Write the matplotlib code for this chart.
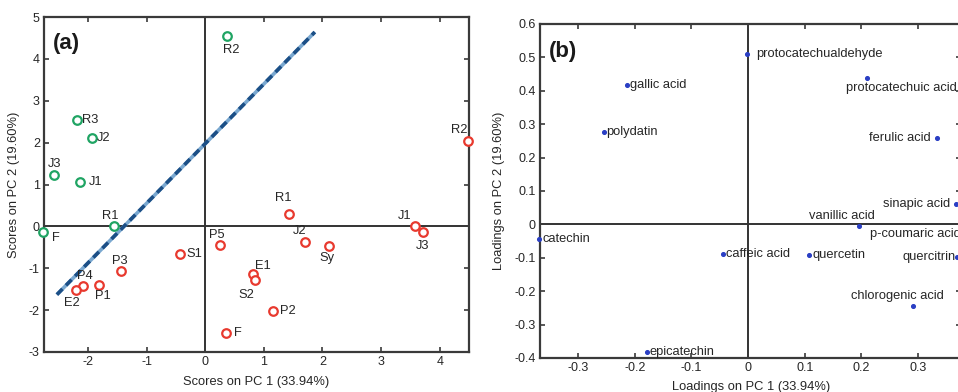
import matplotlib
matplotlib.use("Agg")
import matplotlib.pyplot as plt

plt.rcParams['font.family'] = ['Liberation Sans', 'DejaVu Sans']
plt.rcParams['axes.unicode_minus'] = False

# ---------------- Data: panel (a) scores ----------------
green_labels = ['R2', 'R3', 'J2', 'J3', 'J1', 'R1', 'F']
green_x = [0.37, -2.18, -1.93, -2.58, -2.13, -1.56, -2.76]
green_y = [4.55, 2.53, 2.12, 1.22, 1.06, 0.02, -0.14]

red_labels = ['R2', 'R1', 'J1', 'J3', 'J2', 'Sy', 'P5', 'S1', 'E1', 'S2',
              'P2', 'F', 'P3', 'P1', 'P4', 'E2']
red_x = [4.49, 1.43, 3.58, 3.71, 1.71, 2.12, 0.26, -0.43, 0.82, 0.85,
         1.15, 0.35, -1.43, -1.81, -2.09, -2.20]
red_y = [2.03, 0.29, 0.02, -0.14, -0.37, -0.46, -0.44, -0.66, -1.13, -1.27,
         -2.01, -2.55, -1.06, -1.40, -1.42, -1.53]

line_x = [-2.53, 1.87]
line_y = [-1.63, 4.64]

# ---------------- Data: panel (b) loadings ----------------
load_labels = ['protocatechualdehyde', 'gallic acid', 'polydatin',
               'protocatechuic acid', 'ferulic acid', 'sinapic acid',
               'vanillic acid', 'p-coumaric acid', 'quercitrin', 'catechin',
               'caffeic acid', 'quercetin', 'chlorogenic acid', 'epicatechin']
load_x = [-0.002, -0.214, -0.255, 0.209, 0.333, 0.366, 0.196, 0.385, 0.369,
          -0.368, -0.045, 0.108, 0.291, -0.179]
load_y = [0.511, 0.418, 0.276, 0.438, 0.258, 0.062, -0.004, -0.028, -0.098,
          -0.045, -0.088, -0.093, -0.245, -0.382]

# label placement (pixel offsets dx, dy-down, alignment)
green_off = {'R2': (4, 14), 'R3': (13, 0), 'J2': (12, 0), 'J3': (1, -11),
             'J1': (15, 0), 'R1': (-4, -10), 'F': (12, 6)}
red_off = {'R2': (-9, -11), 'R1': (-6, -16), 'J1': (-10, -10), 'J3': (0, 14),
           'J2': (-6, -11), 'Sy': (-2, 12), 'P5': (-4, -10), 'S1': (14, 0),
           'E1': (10, -8), 'S2': (-9, 15), 'P2': (15, 0), 'F': (12, 0),
           'P3': (-2, -10), 'P1': (4, 11), 'P4': (2, -10), 'E2': (-4, 13)}
load_off = {'protocatechualdehyde': (9, 0, 'left'), 'gallic acid': (3, 0, 'left'),
            'polydatin': (3, 0, 'left'), 'protocatechuic acid': (-21, 10, 'left'),
            'ferulic acid': (-6, 0, 'right'), 'sinapic acid': (-5, 0, 'right'),
            'vanillic acid': (-17, -10, 'center'), 'p-coumaric acid': (-6, 0, 'right'),
            'quercitrin': (-2, 0, 'right'), 'catechin': (3, 0, 'left'),
            'caffeic acid': (3, 0, 'left'), 'quercetin': (3, 0, 'left'),
            'chlorogenic acid': (-16, -10, 'center'), 'epicatechin': (3, 0, 'left')}

W, H = 958, 392
fig = plt.figure(figsize=(W / 100, H / 100), dpi=100)

def px_axes(l, t, r, b):
    return fig.add_axes([l / W, 1 - b / H, (r - l) / W, (b - t) / H])

spine_c = '#3a3a3a'
txt_c = '#262626'
fs = 9.0
lfs = 9.3
pt = 0.72

def style(ax):
    for s in ax.spines.values():
        s.set_color(spine_c)
        s.set_linewidth(1.6)
    ax.tick_params(direction='in', top=True, right=True, length=3.5, width=1.2,
                   color=spine_c, labelsize=fs, labelcolor=txt_c, pad=3)
    ax.axhline(0, color='#333333', lw=1.4, zorder=1)
    ax.axvline(0, color='#333333', lw=1.4, zorder=1)

# ---------- Panel (a) ----------
axa = px_axes(44, 17, 469, 352)
style(axa)
axa.set_xlim(-2.75, 4.5)
axa.set_ylim(-3, 5)
axa.set_xticks([-2, -1, 0, 1, 2, 3, 4])
axa.set_yticks([-3, -2, -1, 0, 1, 2, 3, 4, 5])

axa.plot(line_x, line_y, color='#7aa8d0', lw=2.6, zorder=2, solid_capstyle='butt')
axa.plot(line_x, line_y, color='#1c4f86', lw=2.6, ls=(0, (2.2, 1.4)), zorder=3)

axa.scatter(green_x, green_y, s=38, facecolors='white', edgecolors='#1fa463',
            linewidths=1.6, zorder=4, clip_on=False)
axa.scatter(red_x, red_y, s=38, facecolors='white', edgecolors='#e8392e',
            linewidths=1.6, zorder=4, clip_on=False)

for lab, x, y in zip(green_labels, green_x, green_y):
    dx, dy = green_off[lab]
    axa.annotate(lab, (x, y), xytext=(dx * pt, -dy * pt), textcoords='offset points',
                 ha='center', va='center', fontsize=lfs, color=txt_c, zorder=5,
                 annotation_clip=False)
for lab, x, y in zip(red_labels, red_x, red_y):
    dx, dy = red_off[lab]
    axa.annotate(lab, (x, y), xytext=(dx * pt, -dy * pt), textcoords='offset points',
                 ha='center', va='center', fontsize=lfs, color=txt_c, zorder=5,
                 annotation_clip=False)

axa.set_xlabel('Scores on PC 1 (33.94%)', fontsize=lfs, color=txt_c)
axa.set_ylabel('Scores on PC 2 (19.60%)', fontsize=lfs, color=txt_c)
axa.xaxis.set_label_coords(0.50, -0.072)
axa.yaxis.set_label_coords(-0.056, 0.5)
axa.text(0.02, 0.921, '(a)', transform=axa.transAxes, fontsize=16, fontweight='bold',
         color='#1a1a1a', va='center', ha='left')

# ---------- Panel (b) ----------
axb = px_axes(540, 24, 961, 358)
style(axb)
axb.set_xlim(-0.367, 0.3755)
axb.set_ylim(-0.4, 0.6)
axb.set_xticks([-0.3, -0.2, -0.1, 0, 0.1, 0.2, 0.3])
axb.set_xticklabels(['-0.3', '-0.2', '-0.1', '0', '0.1', '0.2', '0.3'])
axb.set_yticks([-0.4, -0.3, -0.2, -0.1, 0, 0.1, 0.2, 0.3, 0.4, 0.5, 0.6])
axb.set_yticklabels(['-0.4', '-0.3', '-0.2', '-0.1', '0', '0.1', '0.2', '0.3',
                     '0.4', '0.5', '0.6'])

axb.scatter(load_x, load_y, s=7, color='#2a3fc4', zorder=4, clip_on=False)
for lab, x, y in zip(load_labels, load_x, load_y):
    dx, dy, ha = load_off[lab]
    axb.annotate(lab, (x, y), xytext=(dx * pt, -dy * pt), textcoords='offset points',
                 ha=ha, va='center', fontsize=lfs, color=txt_c, zorder=5,
                 annotation_clip=False)

axb.set_xlabel('Loadings on PC 1 (33.94%)', fontsize=lfs, color=txt_c)
axb.set_ylabel('Loadings on PC 2 (19.60%)', fontsize=lfs, color=txt_c)
axb.xaxis.set_label_coords(0.502, -0.069)
axb.yaxis.set_label_coords(-0.083, 0.5)
axb.text(0.02, 0.919, '(b)', transform=axb.transAxes, fontsize=16, fontweight='bold',
         color='#1a1a1a', va='center', ha='left')

fig.savefig('out.png', dpi=100)
